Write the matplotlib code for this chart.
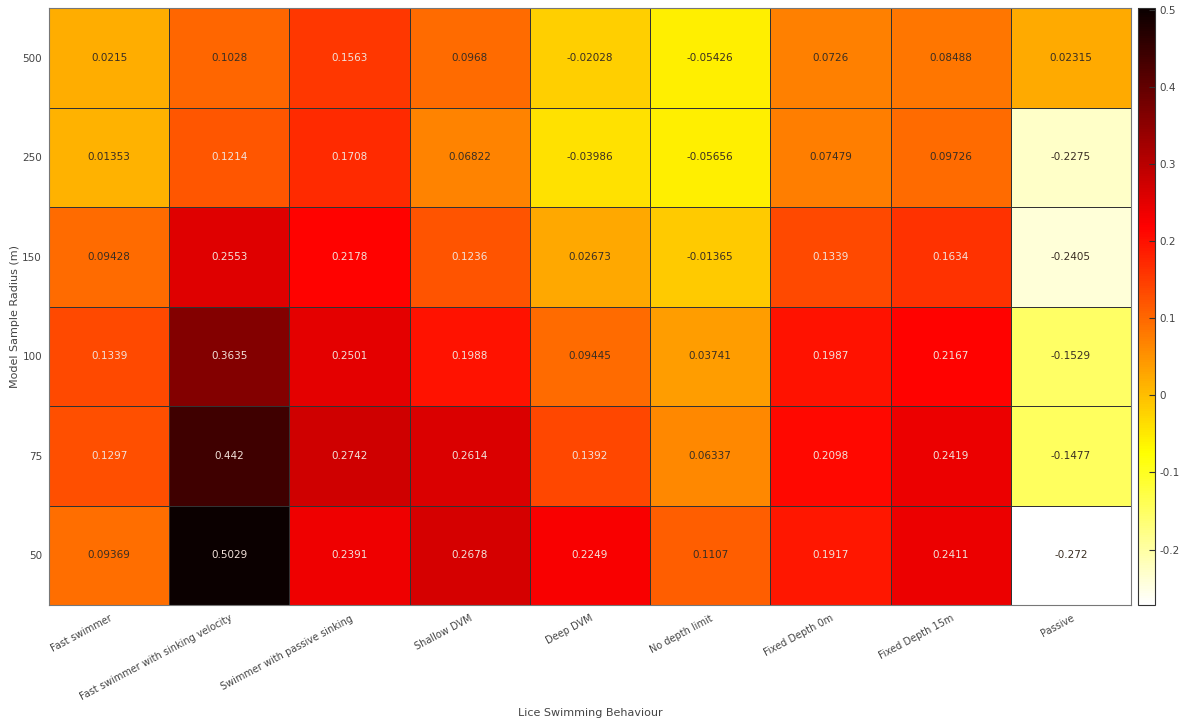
import numpy as np
import matplotlib
matplotlib.use("Agg")
import matplotlib.pyplot as plt

behaviours = ["Fast swimmer", "Fast swimmer with sinking velocity",
              "Swimmer with passive sinking", "Shallow DVM", "Deep DVM",
              "No depth limit", "Fixed Depth 0m", "Fixed Depth 15m", "Passive"]
radii = ["500", "250", "150", "100", "75", "50"]

r500 = [0.0215, 0.1028, 0.1563, 0.0968, -0.02028, -0.05426, 0.0726, 0.08488, 0.02315]
r250 = [0.01353, 0.1214, 0.1708, 0.06822, -0.03986, -0.05656, 0.07479, 0.09726, -0.2275]
r150 = [0.09428, 0.2553, 0.2178, 0.1236, 0.02673, -0.01365, 0.1339, 0.1634, -0.2405]
r100 = [0.1339, 0.3635, 0.2501, 0.1988, 0.09445, 0.03741, 0.1987, 0.2167, -0.1529]
r75 = [0.1297, 0.442, 0.2742, 0.2614, 0.1392, 0.06337, 0.2098, 0.2419, -0.1477]
r50 = [0.09369, 0.5029, 0.2391, 0.2678, 0.2249, 0.1107, 0.1917, 0.2411, -0.272]

values = np.array([r500, r250, r150, r100, r75, r50])
labels = [[f"{v:.4g}" for v in row] for row in values]

W, H = 1181, 722
fig = plt.figure(figsize=(W / 100, H / 100), dpi=100)
ax = fig.add_axes([49 / W, 1 - 605 / H, (1131 - 49) / W, (605 - 8) / H])
cax = fig.add_axes([1138 / W, 1 - 605 / H, (1155 - 1138) / W, (605 - 8) / H])

nrows, ncols = values.shape
mesh = ax.pcolormesh(np.arange(ncols + 1), np.arange(nrows + 1), values,
                     cmap="hot_r", vmin=values.min(), vmax=values.max(),
                     edgecolors="#333333", linewidth=0.5)
ax.set_xlim(0, ncols)
ax.set_ylim(nrows, 0)

for i in range(nrows):
    for j in range(ncols):
        v = values[i, j]
        color = "#f3e2da" if v > 0.115 else "#3a2e22"
        ax.text(j + 0.5, i + 0.5, labels[i][j], ha="center", va="center",
                fontsize=7.5, color=color)

ax.set_xticks(np.arange(ncols) + 0.5)
ax.set_xticklabels(behaviours, rotation=28, ha="right", rotation_mode="anchor",
                   fontsize=7, color="#444444")
ax.set_yticks(np.arange(nrows) + 0.5)
ax.set_yticklabels(radii, fontsize=7.5, color="#444444")
ax.tick_params(axis="y", length=0, pad=5)
ax.tick_params(axis="x", length=0, pad=6)
for s in ax.spines.values():
    s.set_color("#777777")
    s.set_linewidth(0.8)

fig.text(590 / W, 1 - 713 / H, "Lice Swimming Behaviour", ha="center", va="center",
         fontsize=8, color="#444444")
fig.text(15 / W, 1 - 317 / H, "Model Sample Radius (m)", ha="center", va="center",
         rotation=90, fontsize=8, color="#444444")

cb = fig.colorbar(mesh, cax=cax)
cb.set_ticks([-0.2, -0.1, 0, 0.1, 0.2, 0.3, 0.4, 0.5])
cb.set_ticklabels(["-0.2", "-0.1", "0", "0.1", "0.2", "0.3", "0.4", "0.5"])
cax.tick_params(direction="in", length=4, width=0.8, labelsize=7.5,
                labelcolor="#444444", color="#333333", pad=3)
cb.outline.set_edgecolor("#333333")
cb.outline.set_linewidth(0.8)

fig.savefig("out.png", dpi=100, facecolor="white")
